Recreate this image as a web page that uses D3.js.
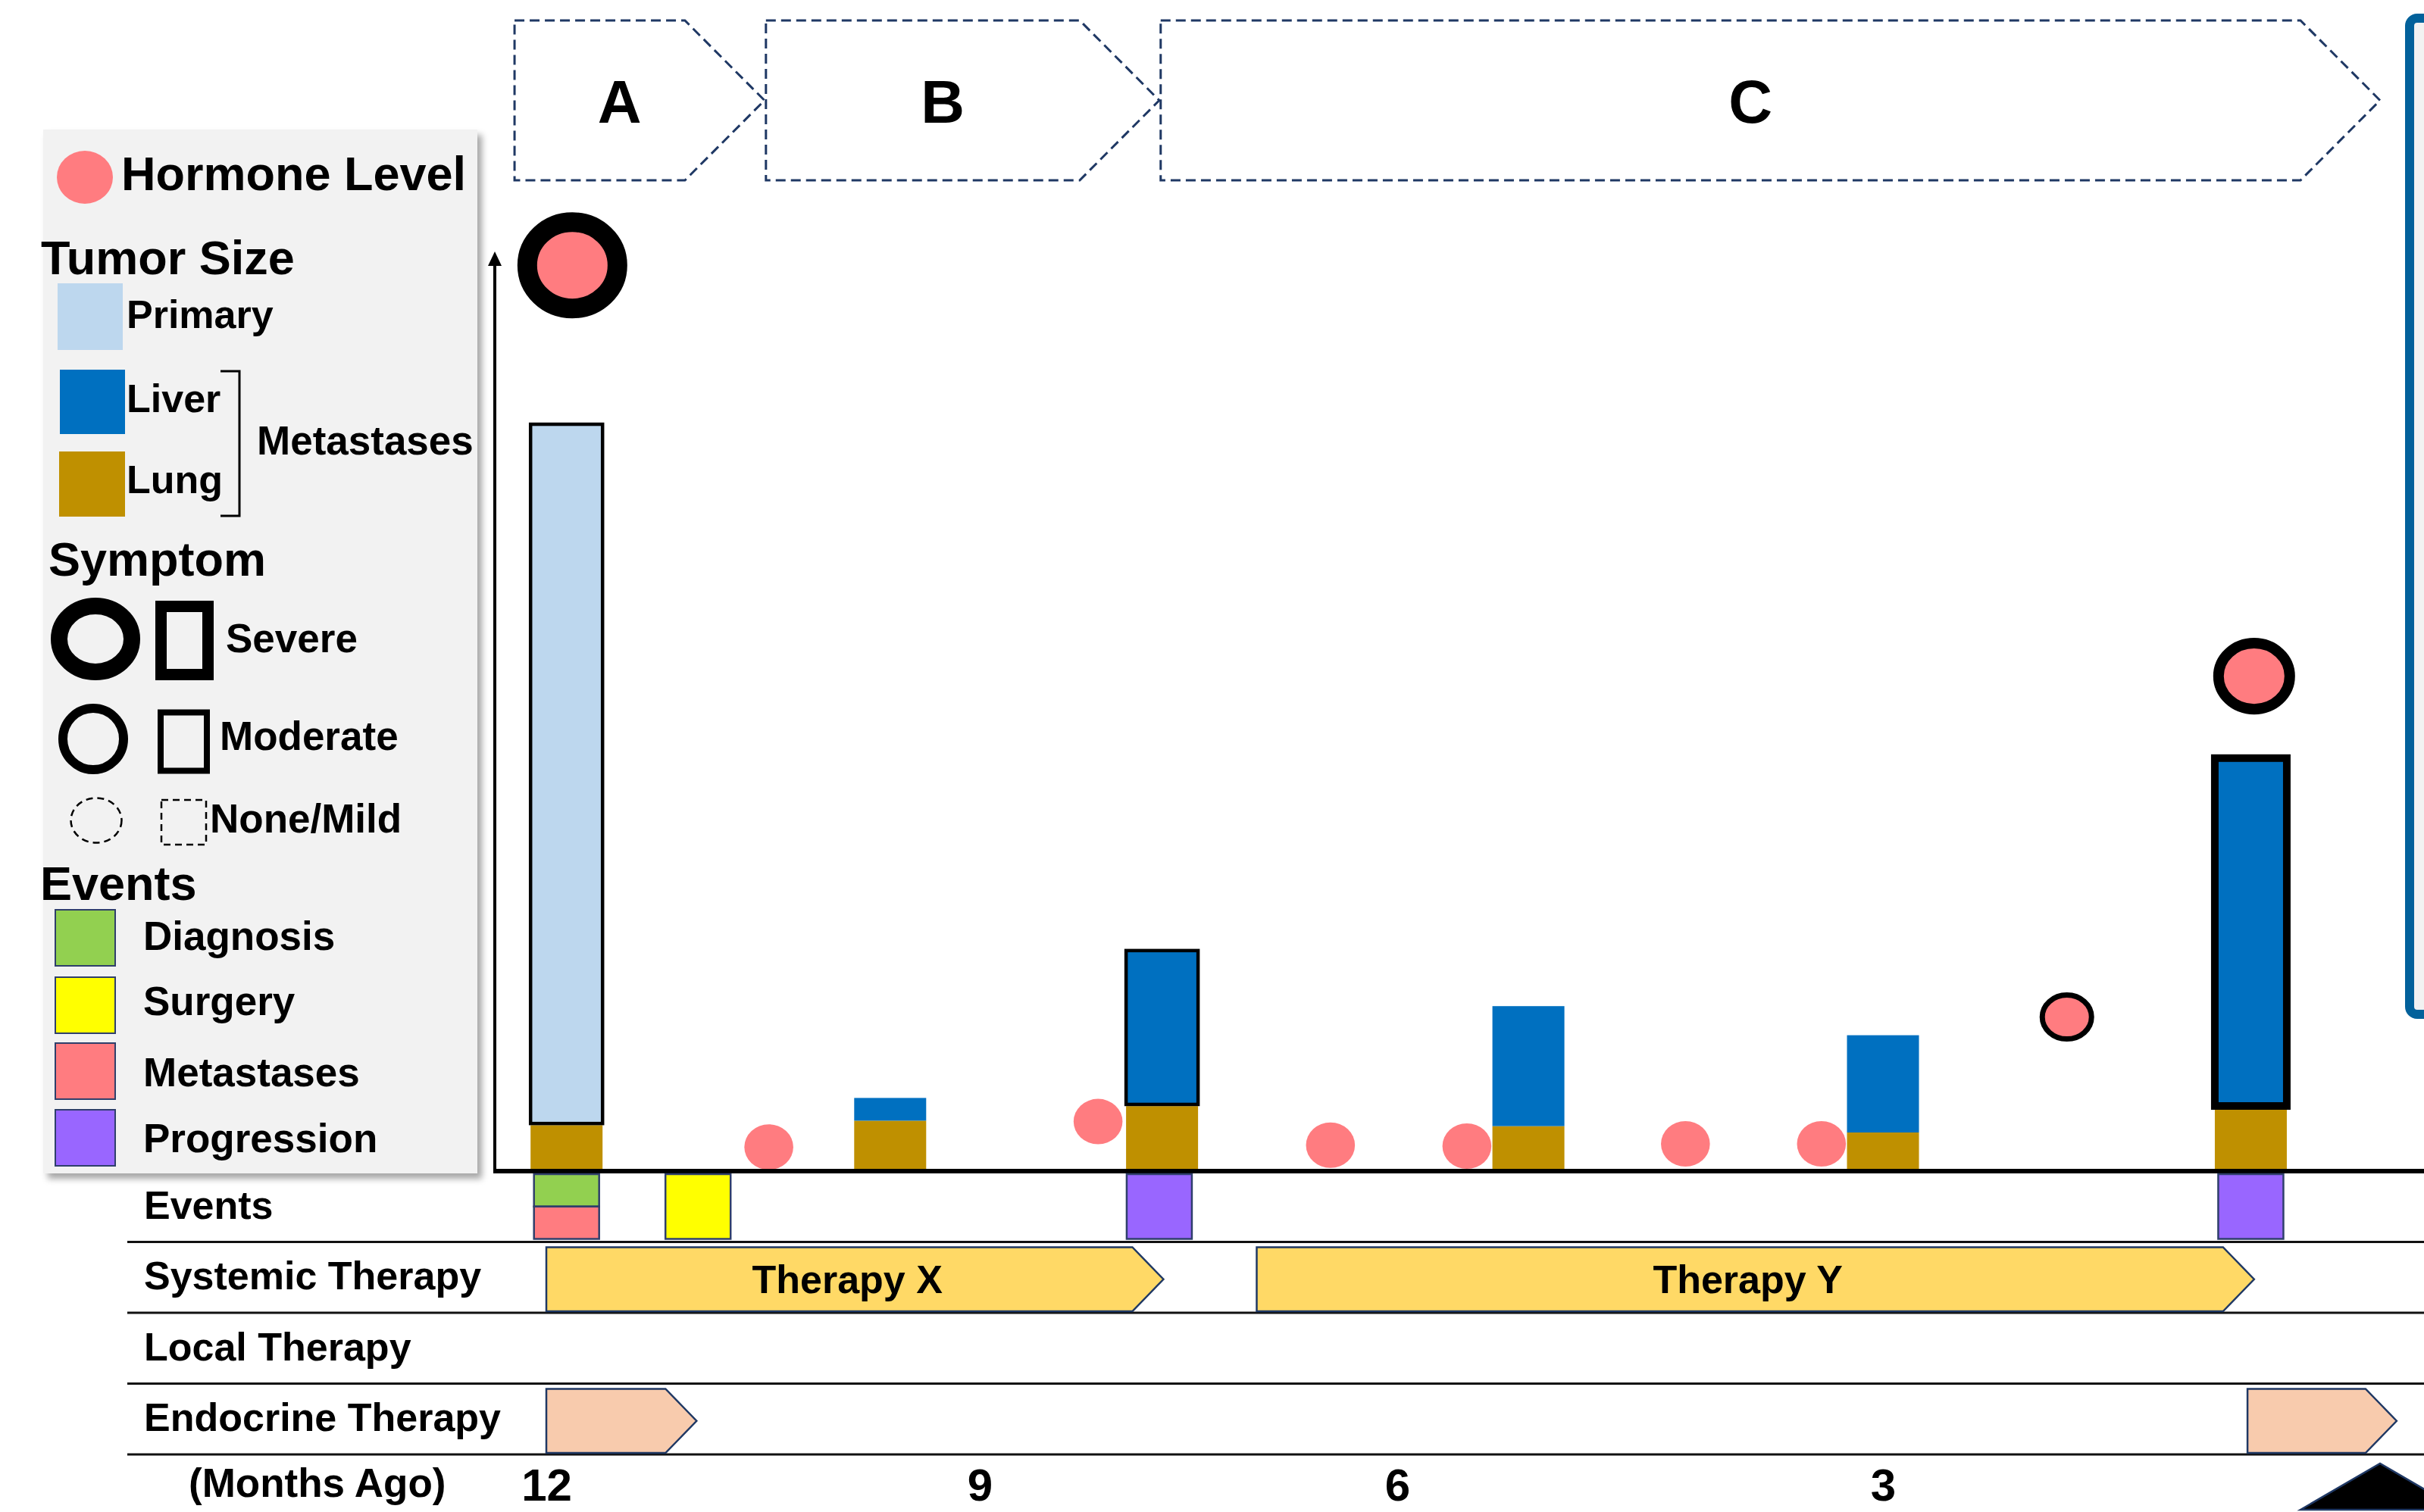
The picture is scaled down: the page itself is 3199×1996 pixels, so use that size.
<!DOCTYPE html>
<html><head><meta charset="utf-8">
<script src="https://cdn.jsdelivr.net/npm/d3@7"></script>
<style>
html,body{margin:0;padding:0;background:#fff;}
svg{display:block;}
text{font-family:"Liberation Sans",Arial,Helvetica,sans-serif;font-weight:bold;fill:#000;}
</style></head><body>
<svg id="chart" width="3199" height="1996"></svg>
<script>
// ---------------- data ----------------
const tickMonths = [12, 9, 6, 3];
const tickLabels = ["12", "9", "6", "3"];
const axisTitle = "(Months Ago)";

const phaseLabels = ["A", "B", "C"];
const phaseStart = [12.22, 10.48, 7.70];
const phaseEnd = [10.49, 7.71, 0];

const visitMonths = [11.86, 9.62, 7.69, 5.19, 3.0, 0.78];
const lungSize = [4.8, 5.3, 6.9, 4.7, 4.0, 6.5];
const liverSize = [0, 2.5, 17.3, 13.2, 10.7, 39.1];
const primarySize = [77.3, 0, 0, 0, 0, 0];
const tumorSymptom = ["Moderate", "None/Mild", "Moderate", "None/Mild", "None/Mild", "Severe"];

const hormoneMonths = [11.82, 10.46, 8.15, 6.48, 5.57, 4.22, 3.38, 1.89, 0.76];
const hormoneLevel = [99.4, 2.4, 5.2, 2.6, 2.5, 2.75, 2.75, 16.7, 54.2];
const hormoneSymptom = ["Severe", "None/Mild", "None/Mild", "None/Mild", "None/Mild", "None/Mild", "None/Mild", "Moderate", "Severe"];

const eventNames = ["Diagnosis", "Surgery", "Metastases", "Progression"];
const eventMonths = [11.86, 11.86, 10.95, 7.71, 0.78];
const eventKinds = ["Diagnosis", "Metastases", "Surgery", "Progression", "Progression"];

const rowNames = ["Events", "Systemic Therapy", "Local Therapy", "Endocrine Therapy"];
const therapyNames = ["Therapy X", "Therapy Y", "", ""];
const therapyRowOf = ["Systemic Therapy", "Systemic Therapy", "Endocrine Therapy", "Endocrine Therapy"];
const therapyStart = [12.0, 7.01, 12.0, 0.80];
const therapyEnd = [7.68, 0.76, 10.96, -0.10];

const tumorKeys = ["Lung", "Liver", "Primary"];
const symptomLevels = ["Severe", "Moderate", "None/Mild"];

// ---------------- styles ----------------
const colors = {
  hormone: "#FF7C80", Primary: "#BDD7EE", Liver: "#0070C0", Lung: "#BF9000",
  Diagnosis: "#92D050", Surgery: "#FFFF00", Metastases: "#FF7C80", Progression: "#9966FF",
  "Systemic Therapy": "#FFD966", "Endocrine Therapy": "#F8CBAD", "Local Therapy": "#C5E0B4"
};
const navy = "#1F3864";
const barStroke = {"Severe": 10, "Moderate": 4.5, "None/Mild": 0};
const hormoneMark = [
  {rx: 59.5, ry: 57, sw: 26}, {rx: 32.3, ry: 30, sw: 0}, {rx: 32.3, ry: 30, sw: 0},
  {rx: 32.3, ry: 30, sw: 0}, {rx: 32.3, ry: 30, sw: 0}, {rx: 32.3, ry: 30, sw: 0},
  {rx: 32.3, ry: 30, sw: 0}, {rx: 32.5, ry: 29, sw: 7}, {rx: 47, ry: 43.6, sw: 14}
];

const svg = d3.select("#chart");
const defs = svg.append("defs");
const f = defs.append("filter").attr("id", "shadow").attr("x", "-5%").attr("y", "-5%").attr("width", "115%").attr("height", "115%");
f.append("feDropShadow").attr("dx", 6).attr("dy", 7).attr("stdDeviation", 4)
  .attr("flood-color", "#000").attr("flood-opacity", 0.35);

// ---------------- scales ----------------
const x = d3.scaleLinear().domain([12, 9, 6, 3, 0]).range([721, 1293, 1844, 2485, 3141]);
const y = d3.scaleLinear().domain([0, 100]).range([1543, 343]);
const rows = d3.scaleBand().domain(rowNames).range([1546, 1920]);
const axisX0 = 653, baseY = 1546;

// ---------------- right panel (partially visible) ----------------
svg.append("rect").attr("x", 3180).attr("y", 24).attr("width", 120).attr("height", 1315)
  .attr("rx", 10).attr("fill", "#F2F2F2").attr("stroke", "#02619B").attr("stroke-width", 12);

// ---------------- phases ----------------
const phaseTop = 27, phaseBot = 238, notch = 105;
const phases = phaseLabels.map((l, i) => ({l, s: phaseStart[i], e: phaseEnd[i]}));
svg.append("g").selectAll("path").data(phases).join("path")
  .attr("d", d => {
    const x0 = x(d.s), xt = x(d.e), x1 = xt - notch, ym = (phaseTop + phaseBot) / 2;
    return `M${x0},${phaseTop}H${x1}L${xt},${ym}L${x1},${phaseBot}H${x0}Z`;
  })
  .attr("fill", "none").attr("stroke", navy).attr("stroke-width", 3).attr("stroke-dasharray", "13,7");
svg.append("g").selectAll("text").data(phases).join("text")
  .attr("x", d => (x(d.s) + x(d.e)) / 2 - notch / 4).attr("y", 162)
  .attr("text-anchor", "middle").attr("font-size", 80).text(d => d.l);

// ---------------- legend ----------------
const lg = svg.append("g");
lg.append("rect").attr("x", 57).attr("y", 171).attr("width", 573).attr("height", 1378)
  .attr("fill", "#F2F2F2").attr("filter", "url(#shadow)");
lg.append("ellipse").attr("cx", 112).attr("cy", 234).attr("rx", 37).attr("ry", 35).attr("fill", colors.hormone);
lg.append("text").attr("x", 160).attr("y", 251).attr("font-size", 63).text("Hormone Level");
lg.append("text").attr("x", 54).attr("y", 362).attr("font-size", 63).text("Tumor Size");
const tumorLegend = [
  {k: "Primary", x: 76, y: 374, w: 86, h: 88, ty: 433},
  {k: "Liver", x: 79, y: 488, w: 86, h: 85, ty: 544},
  {k: "Lung", x: 78, y: 596, w: 87, h: 86, ty: 651}
];
tumorLegend.forEach(d => {
  lg.append("rect").attr("x", d.x).attr("y", d.y).attr("width", d.w).attr("height", d.h).attr("fill", colors[d.k]);
  lg.append("text").attr("x", 167).attr("y", d.ty).attr("font-size", 52).text(d.k);
});
lg.append("path").attr("d", "M291,490H316V681H291").attr("fill", "none").attr("stroke", "#000").attr("stroke-width", 3);
lg.append("text").attr("x", 339).attr("y", 600).attr("font-size", 53).text("Metastases");
lg.append("text").attr("x", 64).attr("y", 760).attr("font-size", 63).text("Symptom");
// Severe
lg.append("ellipse").attr("cx", 126).attr("cy", 843.5).attr("rx", 48).attr("ry", 43.5)
  .attr("fill", "none").attr("stroke", "#000").attr("stroke-width", 22);
lg.append("rect").attr("x", 212.5).attr("y", 800.5).attr("width", 62).attr("height", 90)
  .attr("fill", "none").attr("stroke", "#000").attr("stroke-width", 15);
lg.append("text").attr("x", 298).attr("y", 861).attr("font-size", 53).text(symptomLevels[0]);
// Moderate
lg.append("ellipse").attr("cx", 123).attr("cy", 975.5).attr("rx", 40).attr("ry", 40.5)
  .attr("fill", "none").attr("stroke", "#000").attr("stroke-width", 12);
lg.append("rect").attr("x", 212).attr("y", 940.5).attr("width", 61).attr("height", 77)
  .attr("fill", "none").attr("stroke", "#000").attr("stroke-width", 8);
lg.append("text").attr("x", 290).attr("y", 990).attr("font-size", 53).text(symptomLevels[1]);
// None/Mild
lg.append("ellipse").attr("cx", 127).attr("cy", 1083).attr("rx", 33.5).attr("ry", 29.6)
  .attr("fill", "none").attr("stroke", "#000").attr("stroke-width", 2.5).attr("stroke-dasharray", "9,6");
lg.append("rect").attr("x", 213).attr("y", 1056).attr("width", 59).attr("height", 59)
  .attr("fill", "none").attr("stroke", "#000").attr("stroke-width", 2.5).attr("stroke-dasharray", "9,6");
lg.append("text").attr("x", 277).attr("y", 1099).attr("font-size", 53).text(symptomLevels[2]);
lg.append("text").attr("x", 53).attr("y", 1188).attr("font-size", 63).text("Events");
const evLegendY = [1201, 1290, 1377, 1465];
const evLegendTY = [1254, 1340, 1434, 1521];
eventNames.forEach((n, i) => {
  lg.append("rect").attr("x", 73).attr("y", evLegendY[i]).attr("width", 79).attr("height", 74)
    .attr("fill", colors[n]).attr("stroke", "#2F3F6B").attr("stroke-width", 2);
  lg.append("text").attr("x", 189).attr("y", evLegendTY[i]).attr("font-size", 53).text(n);
});

// ---------------- tumor bars ----------------
const table = visitMonths.map((m, i) => ({m, Lung: lungSize[i], Liver: liverSize[i], Primary: primarySize[i], sym: tumorSymptom[i]}));
const stack = d3.stack().keys(tumorKeys)(table);
const barW = 95;
const segs = [];
stack.forEach(layer => layer.forEach((s, i) => {
  if (s[1] - s[0] > 0) segs.push({key: layer.key, y0: s[0], y1: s[1], d: s.data, i});
}));
const topKey = table.map(d => {
  let k = null; tumorKeys.forEach(kk => { if (d[kk] > 0) k = kk; }); return k;
});
svg.append("g").selectAll("rect").data(segs).join("rect")
  .each(function(s) {
    const sw = (topKey[s.i] === s.key) ? barStroke[s.d.sym] : 0;
    const top = y(s.y1), bot = y(s.y0);
    d3.select(this)
      .attr("x", x(s.d.m) - barW / 2).attr("width", barW)
      .attr("y", top + sw / 2).attr("height", Math.max(0, bot - top - sw))
      .attr("fill", colors[s.key])
      .attr("stroke", sw ? "#000" : "none").attr("stroke-width", sw);
  });

// ---------------- hormone markers ----------------
const hormones = hormoneMonths.map((m, i) => ({m, v: hormoneLevel[i], s: hormoneSymptom[i], st: hormoneMark[i]}));
svg.append("g").selectAll("ellipse").data(hormones).join("ellipse")
  .attr("cx", d => x(d.m)).attr("cy", d => y(d.v))
  .attr("rx", d => d.st.rx).attr("ry", d => d.st.ry)
  .attr("fill", colors.hormone)
  .attr("stroke", d => d.st.sw ? "#000" : "none").attr("stroke-width", d => d.st.sw);

// ---------------- axes ----------------
svg.append("line").attr("x1", axisX0).attr("x2", axisX0).attr("y1", baseY + 3).attr("y2", 348)
  .attr("stroke", "#000").attr("stroke-width", 4);
svg.append("path").attr("d", `M${axisX0},332L${axisX0 + 9},351L${axisX0 - 9},351Z`).attr("fill", "#000");
svg.append("line").attr("x1", axisX0 - 2).attr("x2", 3199).attr("y1", baseY).attr("y2", baseY)
  .attr("stroke", "#000").attr("stroke-width", 6);

// ---------------- rows ----------------
const rowG = svg.append("g");
rowG.selectAll("line").data(rowNames).join("line")
  .attr("x1", 168).attr("x2", 3199)
  .attr("y1", d => rows(d) + rows.bandwidth()).attr("y2", d => rows(d) + rows.bandwidth())
  .attr("stroke", "#111").attr("stroke-width", 3);
rowG.selectAll("text").data(rowNames).join("text")
  .attr("x", 190).attr("y", d => rows(d) + rows.bandwidth() / 2 + 16)
  .attr("font-size", 52).text(d => d);

// ---------------- events ----------------
const evW = 86;
const evTop = rows("Events") + 4, evBot = rows("Events") + rows.bandwidth() - 4;
const groups = d3.groups(eventMonths.map((m, i) => ({m, k: eventKinds[i]})), d => d.m);
const evCells = [];
groups.forEach(([m, list]) => {
  const h = (evBot - evTop) / list.length;
  list.forEach((e, j) => evCells.push({m, k: e.k, y0: evTop + j * h, h}));
});
svg.append("g").selectAll("rect").data(evCells).join("rect")
  .attr("x", d => x(d.m) - evW / 2).attr("width", evW)
  .attr("y", d => d.y0).attr("height", d => d.h)
  .attr("fill", d => colors[d.k]).attr("stroke", "#2F3F6B").attr("stroke-width", 2.5);

// ---------------- therapies ----------------
const tNotch = 41;
const therapies = therapyNames.map((n, i) => ({n, r: therapyRowOf[i], s: therapyStart[i], e: therapyEnd[i]}));
const tg = svg.append("g");
tg.selectAll("path").data(therapies).join("path")
  .attr("d", d => {
    const t = rows(d.r) + 7, b = rows(d.r) + rows.bandwidth() - 2, xs = x(d.s), xe = x(d.e), m = (t + b) / 2;
    return `M${xs},${t}H${xe - tNotch}L${xe},${m}L${xe - tNotch},${b}H${xs}Z`;
  })
  .attr("fill", d => colors[d.r]).attr("stroke", navy).attr("stroke-width", 2.5);
tg.selectAll("text").data(therapies.filter(d => d.n)).join("text")
  .attr("x", d => (x(d.s) + x(d.e) - 20) / 2)
  .attr("y", d => rows(d.r) + rows.bandwidth() / 2 + 21)
  .attr("text-anchor", "middle").attr("font-size", 52).text(d => d.n);

// ---------------- time axis ----------------
const xAxis = d3.axisBottom(x).tickValues(tickMonths).tickFormat((d, i) => tickLabels[i]).tickSize(0);
const ax = svg.append("g").attr("transform", "translate(0,1981)").call(xAxis);
ax.select(".domain").remove();
ax.selectAll("text").attr("y", 0).attr("dy", 0).attr("font-size", 60)
  .attr("font-family", "'Liberation Sans',Arial,sans-serif").attr("font-weight", "bold").attr("fill", "#000");
svg.append("text").attr("x", 249).attr("y", 1976).attr("font-size", 53).text(axisTitle);
// "now" marker
svg.append("path").attr("d", `M${x(0) - 105},1993L${x(0)},1932L${x(0) + 105},1993Z`)
  .attr("fill", "#000").attr("stroke", navy).attr("stroke-width", 2.5);
</script>
</body></html>
